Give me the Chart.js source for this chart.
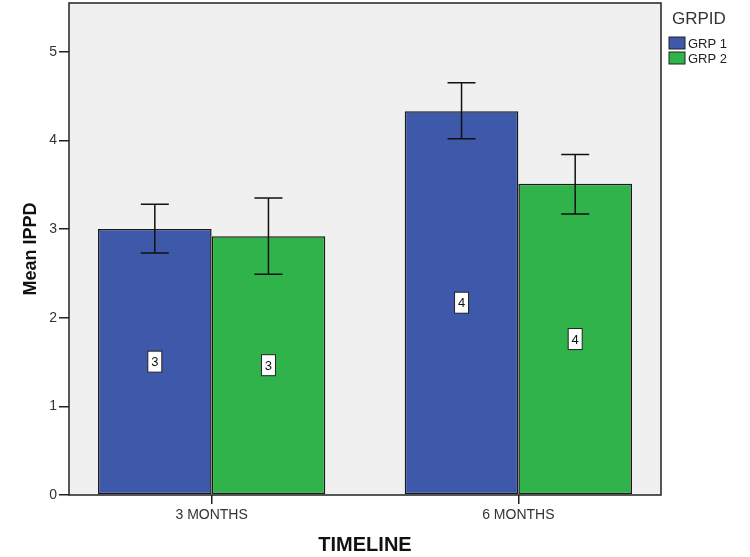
<!DOCTYPE html>
<html>
<head>
<meta charset="utf-8">
<script src="https://cdn.jsdelivr.net/npm/chart.js@4.4.1/dist/chart.umd.min.js"></script>
<style>
  html, body { margin: 0; padding: 0; background: #fff; }
  #wrap { width: 750px; height: 557px; }
</style>
</head>
<body>
<div id="wrap"><canvas id="ippdChart"></canvas></div>
<script>
// values
const timeline = ['3 MONTHS', '6 MONTHS'];
const groups = ['GRP 1', 'GRP 2'];
const grp1Mean = [3.00, 4.33];
const grp2Mean = [2.92, 3.51];
const grp1Low = [2.73, 4.02];
const grp1High = [3.28, 4.65];
const grp2Low = [2.49, 3.17];
const grp2High = [3.35, 3.84];
const yTicks = [0, 1, 2, 3, 4, 5];

Chart.defaults.font.family = '"Liberation Sans", Arial, sans-serif';

// grey plot area
const plotBack = {
  id: 'plotBack',
  beforeDraw(chart) {
    const { ctx, chartArea: a } = chart;
    ctx.save();
    ctx.fillStyle = '#f0f0f0';
    ctx.fillRect(a.left, a.top, a.right - a.left, a.bottom - a.top);
    ctx.restore();
  },
  afterDraw(chart) {
    const { ctx, chartArea: a } = chart;
    ctx.save();
    ctx.strokeStyle = '#222';
    ctx.lineWidth = 1.5;
    ctx.strokeRect(a.left, a.top, a.right - a.left, a.bottom - a.top);
    ctx.restore();
  }
};

// error bars + boxed value labels
const errorBars = {
  id: 'errorBars',
  afterDatasetsDraw(chart) {
    const ctx = chart.ctx;
    const yScale = chart.scales.y;
    chart.data.datasets.forEach((ds, di) => {
      const meta = chart.getDatasetMeta(di);
      meta.data.forEach((bar, i) => {
        const hi = yScale.getPixelForValue(ds.errHigh[i]);
        const lo = yScale.getPixelForValue(ds.errLow[i]);
        const cap = 14;
        ctx.save();
        ctx.strokeStyle = '#111';
        ctx.lineWidth = 1.5;
        ctx.beginPath();
        ctx.moveTo(bar.x, hi); ctx.lineTo(bar.x, lo);
        ctx.moveTo(bar.x - cap, hi); ctx.lineTo(bar.x + cap, hi);
        ctx.moveTo(bar.x - cap, lo); ctx.lineTo(bar.x + cap, lo);
        ctx.stroke();

        // label in the middle of the bar
        const mid = (bar.y + bar.base) / 2;
        const txt = ds.data[i].y.toFixed(0);
        ctx.fillStyle = '#fff';
        ctx.fillRect(bar.x - 7, mid - 10.5, 14, 21);
        ctx.lineWidth = 1;
        ctx.strokeStyle = '#222';
        ctx.strokeRect(bar.x - 7, mid - 10.5, 14, 21);
        ctx.fillStyle = '#111';
        ctx.font = '13px "Liberation Sans", Arial, sans-serif';
        ctx.textAlign = 'center';
        ctx.textBaseline = 'middle';
        ctx.fillText(txt, bar.x, mid + 1);
        ctx.restore();
      });
    });
  }
};

// legend at the top right, like SPSS
const sideLegend = {
  id: 'sideLegend',
  afterDraw(chart) {
    const ctx = chart.ctx;
    ctx.save();
    ctx.fillStyle = '#333';
    ctx.textBaseline = 'middle';
    ctx.textAlign = 'left';
    ctx.font = '17px "Liberation Sans", Arial, sans-serif';
    ctx.fillText('GRPID', 672, 19);
    ctx.font = '13px "Liberation Sans", Arial, sans-serif';
    chart.data.datasets.forEach((ds, i) => {
      const y = 37 + i * 15;
      ctx.fillStyle = ds.backgroundColor;
      ctx.fillRect(669, y, 16, 12);
      ctx.strokeStyle = '#222';
      ctx.lineWidth = 1;
      ctx.strokeRect(669, y, 16, 12);
      ctx.fillStyle = '#222';
      ctx.fillText(ds.label, 688, y + 7);
    });
    ctx.restore();
  }
};

const ctx = document.getElementById('ippdChart').getContext('2d');
new Chart(ctx, {
  type: 'bar',
  data: {
    datasets: [
      {
        label: groups[0],
        data: grp1Mean.map((v, i) => ({ x: i, y: v })),
        errLow: grp1Low,
        errHigh: grp1High,
        backgroundColor: '#3e59a9',
        borderColor: '#1a1a1a',
        borderWidth: 1.5,
        borderSkipped: false
      },
      {
        label: groups[1],
        data: grp2Mean.map((v, i) => ({ x: i, y: v })),
        errLow: grp2Low,
        errHigh: grp2High,
        backgroundColor: '#31b34b',
        borderColor: '#1a1a1a',
        borderWidth: 1.5,
        borderSkipped: false
      }
    ]
  },
  options: {
    responsive: true,
    maintainAspectRatio: false,
    animation: false,
    categoryPercentage: 0.741,
    barPercentage: 1,
    layout: { padding: { top: 3, right: 89, left: 0, bottom: 0 } },
    plugins: {
      legend: { display: false },
      tooltip: { enabled: false }
    },
    scales: {
      x: {
        type: 'linear',
        min: -0.465,
        max: 1.465,
        offset: false,
        afterBuildTicks: (s) => { s.ticks = timeline.map((t, i) => ({ value: i })); },
        afterFit: (s) => { s.height = 62; s.paddingLeft = 0; s.paddingRight = 0; },
        grid: { offset: false, drawOnChartArea: false, tickLength: 9, color: '#222', lineWidth: 1.5 },
        border: { display: false },
        ticks: {
          callback: (v) => timeline[v],
          autoSkip: false,
          maxRotation: 0,
          padding: 3,
          color: '#333',
          font: { size: 14 }
        },
        title: {
          display: true,
          text: 'TIMELINE',
          color: '#111',
          font: { size: 20, weight: 'bold' },
          padding: { top: 0, bottom: 0 }
        }
      },
      y: {
        min: 0,
        max: 5.55,
        afterBuildTicks: (s) => { s.ticks = yTicks.map((v) => ({ value: v })); },
        afterFit: (s) => { s.width = 69; s.paddingTop = 0; s.paddingBottom = 0; },
        grid: { drawOnChartArea: false, tickLength: 10, color: '#222', lineWidth: 1.5 },
        border: { display: false },
        ticks: { padding: 2, color: '#333', font: { size: 14 } },
        title: {
          display: true,
          text: 'Mean IPPD',
          color: '#111',
          font: { size: 18, weight: 'bold' },
          padding: { top: 20, bottom: 0 }
        }
      }
    }
  },
  plugins: [plotBack, errorBars, sideLegend]
});
</script>
</body>
</html>
